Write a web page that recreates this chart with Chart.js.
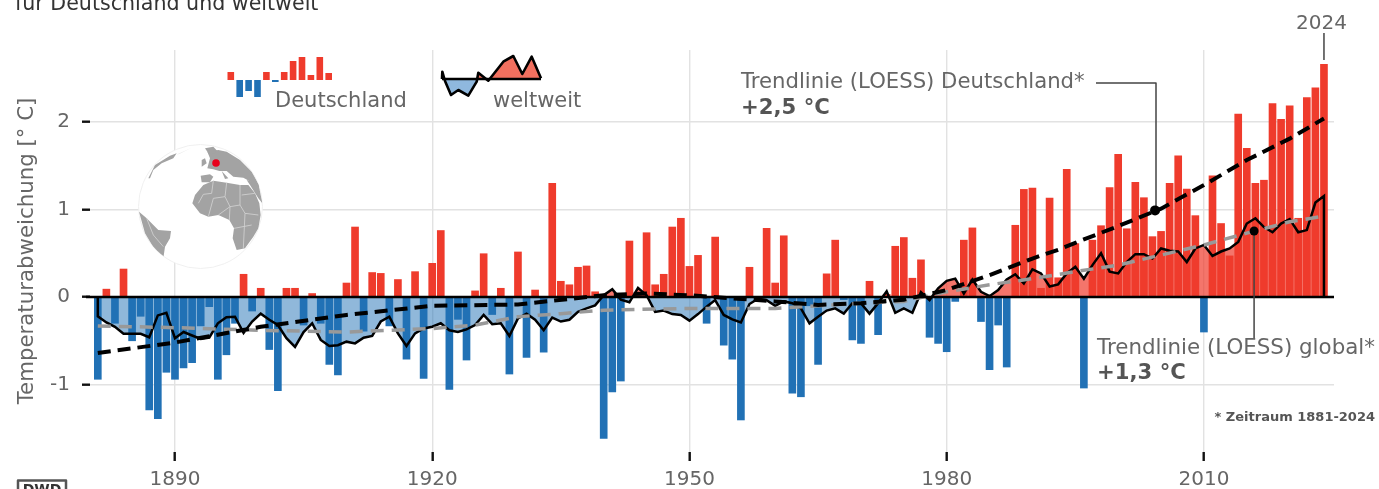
<!DOCTYPE html>
<html lang="de">
<head>
<meta charset="utf-8">
<title>Temperaturabweichung</title>
<script src="https://cdn.jsdelivr.net/npm/chart.js@4"></script>
<style>
  html, body { margin: 0; padding: 0; background: #fff; overflow: hidden; }
  canvas { display: block; filter: blur(0.5px); }
</style>
</head>
<body>
<canvas id="tempChart" width="1379" height="489"></canvas>
<script>
const firstYear = 1881;

// Abweichung Deutschland, 1881-2024
const germany = [
  -0.94, 0.09, -0.30, 0.32, -0.50, -0.22, -1.29, -1.39, -0.86, -0.94,
  -0.81, -0.75, -0.33, -0.11, -0.94, -0.66, -0.30, 0.26, -0.16, 0.10,
  -0.60, -1.07, 0.10, 0.10, -0.32, 0.04, -0.30, -0.77, -0.89, 0.16,
  0.80, -0.39, 0.28, 0.27, -0.33, 0.20, -0.71, 0.29, -0.93, 0.385,
  0.76, -1.055, -0.255, -0.72, 0.07, 0.495, -0.20, 0.10, -0.88, 0.515,
  -0.69, 0.08, -0.63, 1.30, 0.18, 0.14, 0.34, 0.355, 0.06, -1.615,
  -1.085, -0.96, 0.64, 0.03, 0.735, 0.14, 0.26, 0.80, 0.90, 0.35,
  0.476, -0.30, 0.685, -0.55, -0.71, -1.405, 0.34, -0.05, 0.785, 0.16,
  0.70, -1.10, -1.14, -0.10, -0.77, 0.265, 0.65, -0.03, -0.49, -0.53,
  0.18, -0.43, 0.03, 0.58, 0.68, 0.215, 0.425, -0.46, -0.53, -0.625,
  -0.05, 0.65, 0.79, -0.28, -0.83, -0.32, -0.80, 0.82, 1.23, 1.245,
  0.10, 1.13, 0.22, 1.46, 0.61, -1.04, 0.65, 0.815, 1.25, 1.63,
  0.78, 1.31, 1.135, 0.69, 0.75, 1.30, 1.615, 1.235, 0.93, -0.40,
  1.385, 0.84, 0.47, 2.09, 1.70, 1.30, 1.335, 2.21, 2.03, 2.185,
  0.90, 2.28, 2.39, 2.66
];

// Abweichung weltweit, 1881-2024
const world = [
  -0.22, -0.29, -0.34, -0.42, -0.42, -0.42, -0.46, -0.21, -0.18, -0.47,
  -0.40, -0.44, -0.48, -0.465, -0.30, -0.23, -0.225, -0.41, -0.28, -0.19,
  -0.26, -0.32, -0.47, -0.57, -0.40, -0.30, -0.49, -0.56, -0.55, -0.51,
  -0.53, -0.465, -0.445, -0.28, -0.225, -0.415, -0.56, -0.415, -0.36, -0.34,
  -0.30, -0.38, -0.40, -0.37, -0.32, -0.205, -0.31, -0.30, -0.445, -0.245,
  -0.19, -0.26, -0.38, -0.235, -0.28, -0.26, -0.17, -0.13, -0.095, 0.02,
  0.09, -0.03, -0.06, 0.105, 0.02, -0.17, -0.155, -0.195, -0.205, -0.27,
  -0.195, -0.11, -0.035, -0.205, -0.255, -0.29, -0.08, -0.02, -0.035, -0.10,
  -0.05, -0.07, -0.13, -0.30, -0.225, -0.155, -0.13, -0.19, -0.07, -0.07,
  -0.19, -0.07, 0.065, -0.18, -0.13, -0.18, 0.055, -0.035, 0.10, 0.185,
  0.21, 0.04, 0.20, 0.06, 0.01, 0.08, 0.20, 0.26, 0.155, 0.315,
  0.27, 0.12, 0.145, 0.27, 0.345, 0.21, 0.365, 0.50, 0.29, 0.27,
  0.40, 0.49, 0.49, 0.44, 0.555, 0.53, 0.52, 0.40, 0.555, 0.595,
  0.47, 0.52, 0.555, 0.63, 0.84, 0.90, 0.80, 0.74, 0.84, 0.89,
  0.74, 0.765, 1.08, 1.155
];

const trendGermanyYears = [1881, 1890, 1900, 1910, 1920, 1930, 1940, 1945, 1950, 1960, 1965, 1970, 1975, 1980, 1985, 1990, 1993, 1995, 2000, 2005, 2010, 2015, 2020, 2024];
const trendGermany = [-0.64, -0.52, -0.34, -0.205, -0.10, -0.085, 0.02, 0.04, 0.02, -0.05, -0.09, -0.07, -0.03, 0.08, 0.25, 0.44, 0.54, 0.62, 0.81, 1.01, 1.28, 1.565, 1.81, 2.04];
const trendWorldYears = [1881, 1890, 1900, 1910, 1920, 1925, 1930, 1935, 1940, 1950, 1960, 1970, 1975, 1980, 1985, 1990, 1995, 2000, 2005, 2010, 2015, 2020, 2024];
const trendWorld = [-0.33, -0.35, -0.38, -0.40, -0.36, -0.32, -0.225, -0.19, -0.15, -0.13, -0.13, -0.07, -0.05, 0.06, 0.14, 0.21, 0.29, 0.365, 0.48, 0.595, 0.73, 0.86, 0.925];

const xTicks = [1890, 1920, 1950, 1980, 2010];
const yTicks = [-1, 0, 1, 2];

const years = germany.map((_, i) => firstYear + i);
const FONT = '"DejaVu Sans", sans-serif';

function text(ctx, str, x, y, size, color, bold, align) {
  ctx.font = (bold ? "bold " : "") + size + "px " + FONT;
  ctx.fillStyle = color;
  ctx.textAlign = align || "left";
  ctx.textBaseline = "middle";
  ctx.fillText(str, x, y);
}

function path(ctx, pts) {
  ctx.beginPath();
  pts.forEach((p, i) => i ? ctx.lineTo(p[0], p[1]) : ctx.moveTo(p[0], p[1]));
}

function leaderLine(ctx, pts) {
  ctx.strokeStyle = "#444";
  ctx.lineWidth = 1.5;
  path(ctx, pts);
  ctx.stroke();
}

// kleine Weltkugel links im Diagramm
function drawGlobe(ctx) {
  const cx = 200.5, cy = 206.5, r = 62;
  const land = [
    // Afrika
    [[187,205],[195,180],[220,150],[250,137],[290,143],[330,150],[355,150],[375,175],[388,205],[392,240],[385,280],[370,305],[345,340],[320,345],[308,310],[312,280],[298,255],[265,240],[235,245],[210,235]],
    // Suedamerika
    [[27,230],[50,250],[85,285],[123,288],[120,310],[105,335],[100,370],[75,345],[45,295]],
    // Europa
    [[232,100],[240,70],[232,50],[265,45],[290,50],[330,75],[365,110],[390,155],[370,145],[340,128],[310,125],[290,108],[268,108],[250,103]],
    // Skandinavien
    [[225,40],[250,35],[262,48],[240,62]],
    // Iberien
    [[212,122],[240,118],[250,125],[240,142],[215,142]],
    // Britische Inseln
    [[215,75],[225,70],[230,85],[215,95]],
    // Italien
    [[275,108],[295,130],[285,132]],
    // Naher Osten
    [[350,135],[385,145],[397,205],[385,190],[360,150]],
    // Groenland
    [[55,130],[75,90],[120,62],[140,55],[130,70],[95,85],[70,105],[60,130]],
    // Island
    [[140,60],[185,38],[150,55]],
    // Madagaskar
    [[385,285],[392,280],[378,308]]
  ];
  const borders = [
    [[250,137],[245,175],[220,178],[205,205]],
    [[290,143],[285,185],[250,190],[235,245]],
    [[330,150],[330,210],[300,215],[265,240]],
    [[375,175],[335,180]],
    [[330,210],[345,235],[385,240]],
    [[312,280],[365,270]],
    [[345,235],[340,340]],
    [[285,185],[300,215],[298,255]],
    [[50,250],[70,300],[100,335]]
  ];
  const map = p => [130 + p[0] / 3, 135 + p[1] / 3];
  ctx.save();
  ctx.beginPath();
  ctx.arc(cx, cy, r, 0, Math.PI * 2);
  ctx.fillStyle = "#fff";
  ctx.fill();
  ctx.strokeStyle = "#f0f0f0";
  ctx.lineWidth = 1;
  ctx.stroke();
  ctx.clip();
  ctx.fillStyle = "#a3a3a3";
  land.forEach(poly => {
    path(ctx, poly.map(map));
    ctx.closePath();
    ctx.fill();
  });
  ctx.strokeStyle = "#d4d4d4";
  ctx.lineWidth = 0.8;
  borders.forEach(line => {
    path(ctx, line.map(map));
    ctx.stroke();
  });
  ctx.fillStyle = "#e8001c";
  ctx.beginPath();
  ctx.arc(216, 163, 3.8, 0, Math.PI * 2);
  ctx.fill();
  ctx.restore();
}

// Legende als Miniatur
function drawLegend(ctx) {
  const heights = [8, -17, -11, -17, 8, -2, 8, 19, 23, 5, 23, 7];
  const base = 80;
  heights.forEach((h, i) => {
    ctx.fillStyle = h > 0 ? "#ef3b2c" : "#2171b5";
    ctx.fillRect(227.5 + i * 8.9, h > 0 ? base - h : base, 6.6, Math.abs(h));
  });

  const line = [[442,79],[442.3,71.7],[445,81],[451,95],[458.3,90],[468.3,95.7],[476.7,81.7],[478.3,72.7],[488.3,80.7],[503.3,61.7],[513.3,56],[522.3,74],[531.7,56.7],[541,78.3]];
  const lineBase = 79;
  ctx.save();
  ctx.beginPath();
  ctx.rect(440, 50, 105, lineBase - 50);
  ctx.clip();
  path(ctx, line);
  ctx.closePath();
  ctx.fillStyle = "#f2705f";
  ctx.fill();
  ctx.restore();
  ctx.save();
  ctx.beginPath();
  ctx.rect(440, lineBase, 105, 25);
  ctx.clip();
  path(ctx, line);
  ctx.closePath();
  ctx.fillStyle = "#8fb8de";
  ctx.fill();
  ctx.restore();
  ctx.strokeStyle = "#000";
  ctx.lineWidth = 2.6;
  ctx.lineJoin = "round";
  path(ctx, line);
  ctx.stroke();
  path(ctx, [[442, lineBase], [541, lineBase]]);
  ctx.stroke();

  text(ctx, "Deutschland", 275, 102, 21, "#666");
  text(ctx, "weltweit", 493, 102, 21, "#666");
}

const overlay = {
  id: "overlay",
  afterDatasetsDraw(chart) {
    const ctx = chart.ctx;
    const x = chart.scales.x;
    const y = chart.scales.y;

    // Nulllinie
    ctx.strokeStyle = "#000";
    ctx.lineWidth = 2.6;
    path(ctx, [[x.left - 4, y.getPixelForValue(0)], [x.right, y.getPixelForValue(0)]]);
    ctx.stroke();

    drawGlobe(ctx);
    drawLegend(ctx);

    // Titel, oben angeschnitten
    text(ctx, "für Deutschland und weltweit", 15, 4.7, 20.6, "#333");

    // Beschriftung Trendlinien
    const dotDe = [x.getPixelForValue(2004.3), y.getPixelForValue(0.99)];
    leaderLine(ctx, [[1096, 83], [1156, 83], [1156, dotDe[1]]]);
    text(ctx, "Trendlinie (LOESS) Deutschland*", 741, 82, 21.2, "#666");
    text(ctx, "+2,5 °C", 741, 108, 21.2, "#555", true);
    ctx.fillStyle = "#000";
    ctx.beginPath();
    ctx.arc(dotDe[0], dotDe[1], 5, 0, Math.PI * 2);
    ctx.fill();

    const dotWorld = [x.getPixelForValue(2015.85), y.getPixelForValue(0.755)];
    leaderLine(ctx, [[dotWorld[0], dotWorld[1]], [dotWorld[0], 338]]);
    text(ctx, "Trendlinie (LOESS) global*", 1097, 348, 21.4, "#666");
    text(ctx, "+1,3 °C", 1097, 373, 21.2, "#555", true);
    ctx.fillStyle = "#000";
    ctx.beginPath();
    ctx.arc(dotWorld[0], dotWorld[1], 4.5, 0, Math.PI * 2);
    ctx.fill();

    text(ctx, "* Zeitraum 1881-2024", 1375, 418, 13, "#555", true, "right");

    // 2024 oben rechts
    const x2024 = x.getPixelForValue(2024);
    leaderLine(ctx, [[x2024, 33], [x2024, 60]]);
    text(ctx, "2024", 1321.5, 24, 20, "#666", false, "center");

    // DWD Logo, unten angeschnitten
    ctx.strokeStyle = "#555";
    ctx.lineWidth = 2.5;
    ctx.strokeRect(18, 480.5, 48, 20);
    text(ctx, "DWD", 42, 490, 14, "#333", true, "center");
  }
};

new Chart(document.getElementById("tempChart").getContext("2d"), {
  type: "bar",
  data: {
    datasets: [
      {
        type: "bar",
        label: "Deutschland",
        data: years.map((yr, i) => ({ x: yr, y: germany[i] })),
        backgroundColor: ctx => ctx.raw.y >= 0 ? "#ef3b2c" : "#2171b5",
        barThickness: 7,
        borderWidth: 0,
        order: 4
      },
      {
        type: "line",
        label: "weltweit",
        // Linie schliesst an beiden Enden auf der Nulllinie
        data: [{ x: firstYear, y: 0 }]
          .concat(years.map((yr, i) => ({ x: yr, y: world[i] })))
          .concat([{ x: years[years.length - 1], y: 0 }]),
        borderColor: "#000",
        borderWidth: 2.5,
        pointRadius: 0,
        tension: 0,
        fill: { target: "origin", above: "rgba(239, 59, 44, 0.7)", below: "rgba(33, 113, 181, 0.5)" },
        order: 3
      },
      {
        type: "line",
        label: "Trend weltweit",
        data: trendWorldYears.map((yr, i) => ({ x: yr, y: trendWorld[i] })),
        borderColor: "#999",
        borderWidth: 3.5,
        borderDash: [13, 8],
        pointRadius: 0,
        fill: false,
        order: 2
      },
      {
        type: "line",
        label: "Trend Deutschland",
        data: trendGermanyYears.map((yr, i) => ({ x: yr, y: trendGermany[i] })),
        borderColor: "#000",
        borderWidth: 4,
        borderDash: [13, 7],
        pointRadius: 0,
        fill: false,
        order: 1
      }
    ]
  },
  options: {
    responsive: false,
    animation: false,
    layout: { padding: { top: 50, right: 45, left: 0, bottom: 0 } },
    plugins: {
      legend: { display: false },
      tooltip: { enabled: false },
      filler: { drawTime: "beforeDatasetsDraw" }
    },
    scales: {
      x: {
        type: "linear",
        offset: false,
        min: 1880.09,
        max: 2025.17,
        afterBuildTicks: axis => { axis.ticks = xTicks.map(v => ({ value: v })); },
        afterFit: axis => { axis.height = 37; },
        grid: { offset: false, color: "#e2e2e2", lineWidth: 1.4, tickColor: "#111", tickWidth: 2.4, tickLength: 9 },
        border: { display: false },
        ticks: { color: "#666", font: { family: FONT, size: 20 }, padding: 7, maxRotation: 0, callback: v => String(v) }
      },
      y: {
        min: -1.771,
        max: 2.823,
        afterBuildTicks: axis => { axis.ticks = yTicks.map(v => ({ value: v })); },
        afterFit: axis => { axis.width = 90; },
        grid: { color: "#e2e2e2", lineWidth: 1.4, tickColor: "#111", tickWidth: 2.4, tickLength: 8 },
        border: { display: false },
        title: { display: true, text: "Temperaturabweichung [° C]", color: "#666", font: { family: FONT, size: 21.3 }, padding: { top: 15, bottom: 0 } },
        ticks: { color: "#666", font: { family: FONT, size: 20 }, padding: 12, callback: v => String(v) }
      }
    }
  },
  plugins: [overlay]
});
</script>
</body>
</html>
